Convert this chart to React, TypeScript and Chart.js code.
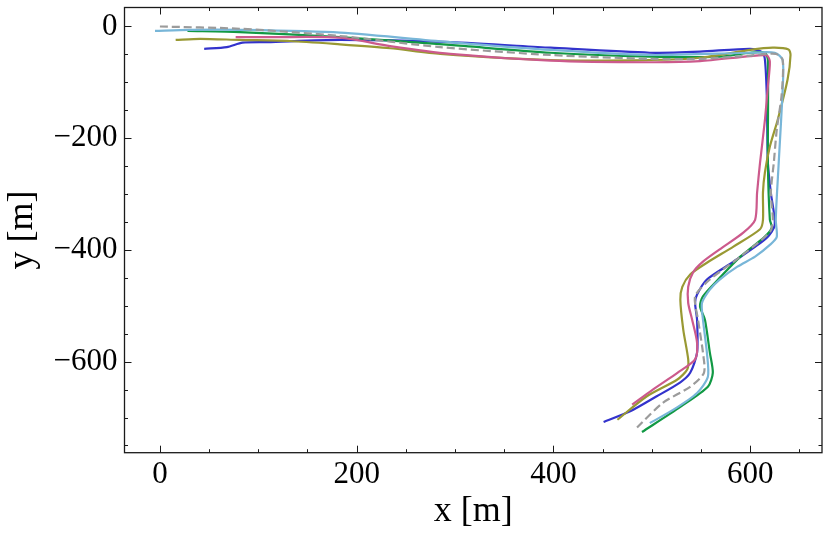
import { useEffect, useRef } from "react"
import { Chart, registerables } from "chart.js"

Chart.register(...registerables)

type Pt = [number, number]

// trajectories, [x, y] in metres
const groundTruth: Pt[] = [
  [0, 0], [81, -4], [183, -17], [285, -37], [397, -51], [498, -58], [549, -58],
  [600, -52], [626, -49], [633, -60], [632, -122], [627, -185], [624, -244],
  [621, -298], [623, -346], [620, -368], [590, -412], [559, -453], [544, -483],
  [547, -525], [552, -584], [553, -620], [539, -645], [511, -674], [485, -718],
]
const runLightBlue: Pt[] = [
  [-5, -8], [30, -6], [81, -6], [183, -11], [295, -28], [397, -42], [498, -51],
  [600, -47], [625, -47], [633, -60], [633, -113], [629, -244], [626, -346],
  [627, -377], [620, -391], [605, -412], [587, -430], [569, -453], [559, -471],
  [551, -495], [552, -525], [556, -584], [557, -627], [546, -656], [522, -686],
  [498, -710],
]
const runGreen: Pt[] = [
  [28, -8], [81, -10], [183, -19], [295, -33], [397, -47], [498, -54], [569, -54],
  [600, -47], [615, -47], [618, -60], [618, -244], [620, -346], [622, -360],
  [615, -376], [590, -412], [569, -450], [552, -483], [549, -501], [554, -525],
  [559, -584], [562, -620], [557, -645], [529, -681], [490, -726],
]
const runBlue: Pt[] = [
  [45, -40], [68, -37], [84, -29], [109, -28], [183, -24], [295, -28], [397, -38],
  [498, -47], [549, -45], [600, -40], [612, -46], [615, -60], [617, -131],
  [618, -244], [621, -298], [625, -355], [617, -378], [583, -421], [556, -453],
  [546, -480], [544, -495], [546, -525], [546, -584], [539, -620], [529, -637],
  [505, -662], [478, -689], [451, -708],
]
const runOlive: Pt[] = [
  [16, -24], [41, -22], [81, -24], [132, -26], [183, -32], [234, -39], [285, -49],
  [397, -60], [498, -60], [549, -56], [600, -42], [623, -38], [639, -41],
  [641, -51], [638, -95], [628, -167], [620, -215], [615, -261], [613, -297],
  [613, -346], [610, -363], [583, -394], [556, -423], [539, -444], [531, -466],
  [529, -489], [532, -543], [537, -596], [536, -614], [526, -632], [495, -662],
  [465, -704],
]
const runPink: Pt[] = [
  [77, -19], [115, -19], [183, -20], [234, -35], [295, -49], [397, -61], [498, -64],
  [549, -62], [600, -53], [617, -52], [620, -63], [618, -107], [615, -167],
  [610, -244], [607, -298], [605, -346], [593, -369], [569, -399], [552, -421],
  [542, -440], [537, -466], [537, -495], [541, -525], [546, -566], [544, -596],
  [526, -620], [501, -650], [480, -677],
]

const xMajorTicks = [0, 200, 400, 600]
const yMajorTicks = [-600, -400, -200, 0]
const minorStep = 50

const serif = '"Liberation Serif", "Times New Roman", serif'

const fmt = (v: number) => (v < 0 ? "\u2212" + Math.abs(v) : String(v))

// matplotlib-like frame with inward ticks on all four sides
const frameTicks = {
  id: "frameTicks",
  afterDatasetsDraw(chart: Chart) {
    const { ctx, chartArea } = chart
    const { left, right, top, bottom } = chartArea
    const xs = chart.scales.x
    const ys = chart.scales.y
    ctx.save()
    ctx.strokeStyle = "#1a1a1a"
    ctx.lineWidth = 1
    ctx.beginPath()
    for (let v = Math.ceil(xs.min / minorStep) * minorStep; v <= xs.max; v += minorStep) {
      const len = v % 200 === 0 ? 7 : 3.5
      const px = Math.round(xs.getPixelForValue(v)) + 0.5
      ctx.moveTo(px, bottom); ctx.lineTo(px, bottom - len)
      ctx.moveTo(px, top); ctx.lineTo(px, top + len)
    }
    for (let v = Math.ceil(ys.min / minorStep) * minorStep; v <= ys.max; v += minorStep) {
      const len = v % 200 === 0 ? 7 : 3.5
      const py = Math.round(ys.getPixelForValue(v)) + 0.5
      ctx.moveTo(left, py); ctx.lineTo(left + len, py)
      ctx.moveTo(right, py); ctx.lineTo(right - len, py)
    }
    ctx.stroke()
    ctx.lineWidth = 1.3
    ctx.strokeRect(left, top, right - left, bottom - top)
    ctx.restore()
  },
}

const line = (data: Pt[], color: string, dashed = false) => ({
  data: data.map(([x, y]) => ({ x, y })),
  borderColor: color,
  backgroundColor: color,
  borderWidth: 2.2,
  borderDash: dashed ? [8, 4] : [],
  pointRadius: 0,
  showLine: true,
  tension: 0.25,
  fill: false,
})

const App = () => {
  const chartRef = useRef<HTMLCanvasElement>(null)
  const chartInstance = useRef<Chart | null>(null)

  useEffect(() => {
    if (!chartRef.current) return
    if (chartInstance.current) chartInstance.current.destroy()
    const ctx = chartRef.current.getContext("2d")
    if (!ctx) return

    chartInstance.current = new Chart(ctx, {
      type: "scatter",
      data: {
        datasets: [
          line(groundTruth, "#9b9b9b", true),
          line(runLightBlue, "#78b6d8"),
          line(runPink, "#cc5a8c"),
          line(runOlive, "#999933"),
          line(runGreen, "#119944"),
          line(runBlue, "#3333cc"),
        ],
      },
      options: {
        animation: false,
        responsive: true,
        maintainAspectRatio: false,
        layout: { padding: { left: 0, right: 8, top: 7.5, bottom: 0 } },
        plugins: { legend: { display: false }, tooltip: { enabled: false } },
        scales: {
          x: {
            type: "linear",
            min: -36,
            max: 673,
            grid: { display: false, drawTicks: false },
            border: { display: false },
            afterBuildTicks: (axis) => {
              axis.ticks = xMajorTicks.map((value) => ({ value }))
            },
            afterFit: (axis) => {
              axis.height = 83.3
              axis.paddingLeft = 0
              axis.paddingRight = 0
            },
            ticks: {
              color: "#000",
              padding: 4,
              maxRotation: 0,
              font: { family: serif, size: 31 },
              callback: (v) => fmt(Number(v)),
            },
            title: {
              display: true,
              text: "x [m]",
              color: "#000",
              font: { family: serif, size: 36 },
              padding: { top: 0, bottom: 3 },
            },
          },
          y: {
            type: "linear",
            min: -763,
            max: 34,
            grid: { display: false, drawTicks: false },
            border: { display: false },
            afterBuildTicks: (axis) => {
              axis.ticks = yMajorTicks.map((value) => ({ value }))
            },
            afterFit: (axis) => {
              axis.width = 124.5
              axis.paddingTop = 0
              axis.paddingBottom = 0
            },
            ticks: {
              color: "#000",
              padding: 7,
              font: { family: serif, size: 31 },
              callback: (v) => fmt(Number(v)),
            },
            title: {
              display: true,
              text: "y [m]",
              color: "#000",
              font: { family: serif, size: 36 },
              padding: { top: 1, bottom: 0 },
            },
          },
        },
      },
      plugins: [frameTicks],
    })

    return () => {
      if (chartInstance.current) {
        chartInstance.current.destroy()
        chartInstance.current = null
      }
    }
  }, [])

  return (
    <div style={{ position: "fixed", left: 0, top: 0, width: 830, height: 536, background: "#fff" }}>
      <canvas ref={chartRef}></canvas>
    </div>
  )
}

export default App
